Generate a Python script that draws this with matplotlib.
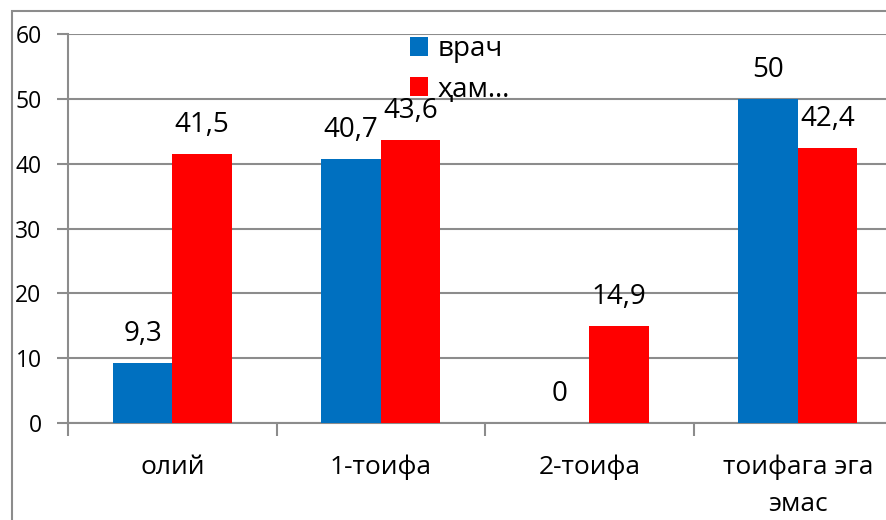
import matplotlib.pyplot as plt
import numpy as np
from matplotlib.patches import Rectangle

plt.rcParams['font.family'] = ['Open Sans', 'DejaVu Sans']

categories = ['олий', '1-тоифа', '2-тоифа', 'тоифага эга\nэмас']
vrach = [9.3, 40.7, 0, 50]
ham = [41.5, 43.6, 14.9, 42.4]
labels_vrach = ['9,3', '40,7', '0', '50']
labels_ham = ['41,5', '43,6', '14,9', '42,4']
series_names = ['врач', 'ҳам…']

W, H = 887, 520
fig = plt.figure(figsize=(W / 100, H / 100), dpi=100)

# outer frame (cut off at right and bottom like the source screenshot)
fig.patches.append(Rectangle((12 / W, -0.2), 1.2, 1 - 11 / H + 0.2, transform=fig.transFigure,
                             fill=False, edgecolor='#8c8c8c', linewidth=1.5))

ax = fig.add_axes([68 / W, (H - 423) / H, 834 / W, 389 / H])

x = np.arange(len(categories))
w = 0.285
grey = '#8c8c8c'

b1 = ax.bar(x - w / 2, vrach, w, color='#0070C0', label=series_names[0], zorder=3)
b2 = ax.bar(x + w / 2, ham, w, color='#FF0000', label=series_names[1], zorder=3)

for bars, labs in ((b1, labels_vrach), (b2, labels_ham)):
    for rect, lab in zip(bars, labs):
        ax.annotate(lab, (rect.get_x() + rect.get_width() / 2, rect.get_height()),
                    xytext=(0, 21), textcoords='offset points',
                    ha='center', va='center', fontsize=20)

ax.set_xlim(-0.5, len(categories) - 0.5)
ax.set_ylim(0, 60)
ax.set_yticks(range(0, 61, 10))
ax.yaxis.grid(True, color=grey, linewidth=1.5, zorder=0)
ax.set_axisbelow(True)

ax.set_xticks(np.arange(len(categories) + 1) - 0.5, minor=False)
ax.set_xticklabels([])
ax.set_xticks(x, minor=True)
ax.set_xticklabels(categories, minor=True, fontsize=19, linespacing=1.6)
ax.tick_params(axis='x', which='major', length=9, width=1.5, color=grey, direction='out')
ax.tick_params(axis='x', which='minor', length=0, pad=23)
ax.tick_params(axis='y', length=8, width=1.5, color=grey, labelsize=16.5, pad=11)

for s in ('top', 'right'):
    ax.spines[s].set_visible(False)
for s in ('left', 'bottom'):
    ax.spines[s].set_color(grey)
    ax.spines[s].set_linewidth(1.5)

fig.legend(loc='upper left', bbox_to_anchor=(410 / W, 1 - 35 / H), frameon=False,
           fontsize=20, handlelength=0.65, handleheight=0.65, handletextpad=0.35,
           labelspacing=0.45, borderpad=0, borderaxespad=0)

fig.savefig('out.png', dpi=100)
